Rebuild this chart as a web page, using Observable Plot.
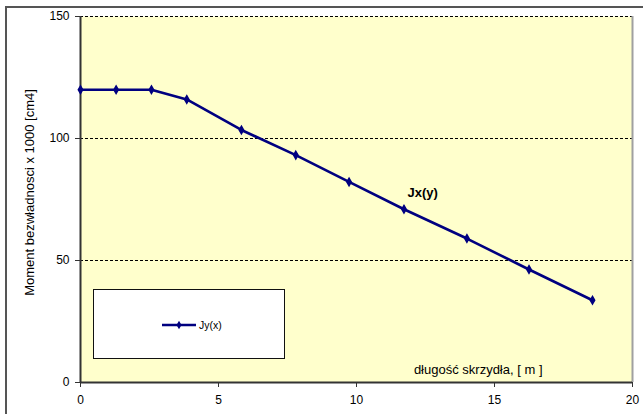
<!DOCTYPE html>
<html>
<head>
<meta charset="utf-8">
<script src="https://cdn.jsdelivr.net/npm/d3@7"></script>
<script src="https://cdn.jsdelivr.net/npm/@observablehq/plot@0.6"></script>
<style>
  html, body { margin: 0; padding: 0; background: #fff; }
  body { width: 643px; height: 414px; overflow: hidden; font-family: "Liberation Sans", Arial, sans-serif; }
  #wrap { position: relative; width: 643px; height: 414px; }
  #outer { position: absolute; left: 5px; top: 6px; width: 700px; height: 500px; border-left: 2px solid #555; border-top: 2px solid #555; }
  #chart { position: absolute; left: 0; top: 0; }
  #legend { position: absolute; left: 93px; top: 289px; width: 190px; height: 68px; background: #fff; border: 1.5px solid #111; }
  #legend svg { position: absolute; left: 0; top: 0; }
</style>
</head>
<body>
<div id="wrap">
  <div id="outer"></div>
  <div id="chart"></div>
  <div id="legend"></div>
</div>
<script>
// Data
const spanX = [0, 1.29, 2.57, 3.85, 5.83, 7.80, 9.73, 11.72, 14.0, 16.25, 18.55];
const momentJ = [120, 120, 120, 116, 103.5, 93.2, 82.2, 71.0, 59.0, 46.3, 33.7];
const yTicks = [0, 50, 100, 150];
const xTicks = [0, 5, 10, 15, 20];
const gridLines = [50, 100, 150];
const seriesLabel = "Jx(y)";
const seriesLabelPos = [11.85, 77.6];
const legendLabel = "Jy(x)";
const yTitle = "Moment bezwładnosci x 1000 [cm4]";
const xTitle = "długość skrzydła, [ m ]";

const data = spanX.map((x, i) => ({x, y: momentJ[i]}));
const navy = "#000080";

const chart = Plot.plot({
  width: 643,
  height: 414,
  marginLeft: 80,
  marginRight: 11,
  marginTop: 16,
  marginBottom: 32,
  style: {fontFamily: "'Liberation Sans', Arial, sans-serif", fontSize: "12px", background: "transparent", color: "#000"},
  x: {domain: [0, 20], ticks: xTicks, label: null},
  y: {domain: [0, 150], ticks: yTicks, label: null},
  marks: [
    Plot.frame({fill: "#FFFFCC", stroke: null}),
    Plot.ruleY(gridLines, {stroke: "#000", strokeWidth: 1, strokeDasharray: "3,2"}),
    Plot.ruleX([20], {stroke: "#a0a0a0", strokeWidth: 2}),
    Plot.ruleX([0], {stroke: "#333", strokeWidth: 2}),
    Plot.ruleY([0], {stroke: "#333", strokeWidth: 2}),
    Plot.axisY({ticks: yTicks, tickSize: 5, tickPadding: 6, fontSize: 12, stroke: "#333", label: null}),
    Plot.axisX({ticks: xTicks, tickSize: 5, tickPadding: 8, fontSize: 12, stroke: "#333", label: null}),
    Plot.text([yTitle], {frameAnchor: "left", text: d => d, rotate: -90, textAnchor: "middle", lineAnchor: "middle", dx: -51, dy: -7, fontSize: 13}),
    Plot.line(data, {x: "x", y: "y", stroke: navy, strokeWidth: 2.6}),
    Plot.dot(data, {x: "x", y: "y", symbol: "diamond", r: 2.3, fill: navy, stroke: navy}),
    Plot.text([seriesLabel], {x: () => seriesLabelPos[0], y: () => seriesLabelPos[1], text: d => d, textAnchor: "start", fontWeight: "bold", fontSize: 13}),
    Plot.text([xTitle], {frameAnchor: "bottom-right", text: d => d, dx: -90, dy: -9, lineAnchor: "bottom", textAnchor: "end", fontSize: 13})
  ]
});
document.getElementById("chart").appendChild(chart);

// legend box
const lg = d3.select("#legend").append("svg").attr("width", 190).attr("height", 68);
lg.append("line").attr("x1", 68).attr("x2", 102).attr("y1", 35).attr("y2", 35).attr("stroke", navy).attr("stroke-width", 2.5);
lg.append("path").attr("d", d3.symbol(d3.symbolDiamond, 22)()).attr("transform", "translate(85,35)").attr("fill", navy);
lg.append("text").attr("x", 105).attr("y", 35).attr("dy", "0.35em").attr("font-size", 10.5).attr("font-family", "'Liberation Sans', Arial, sans-serif").text(legendLabel);
</script>
</body>
</html>
